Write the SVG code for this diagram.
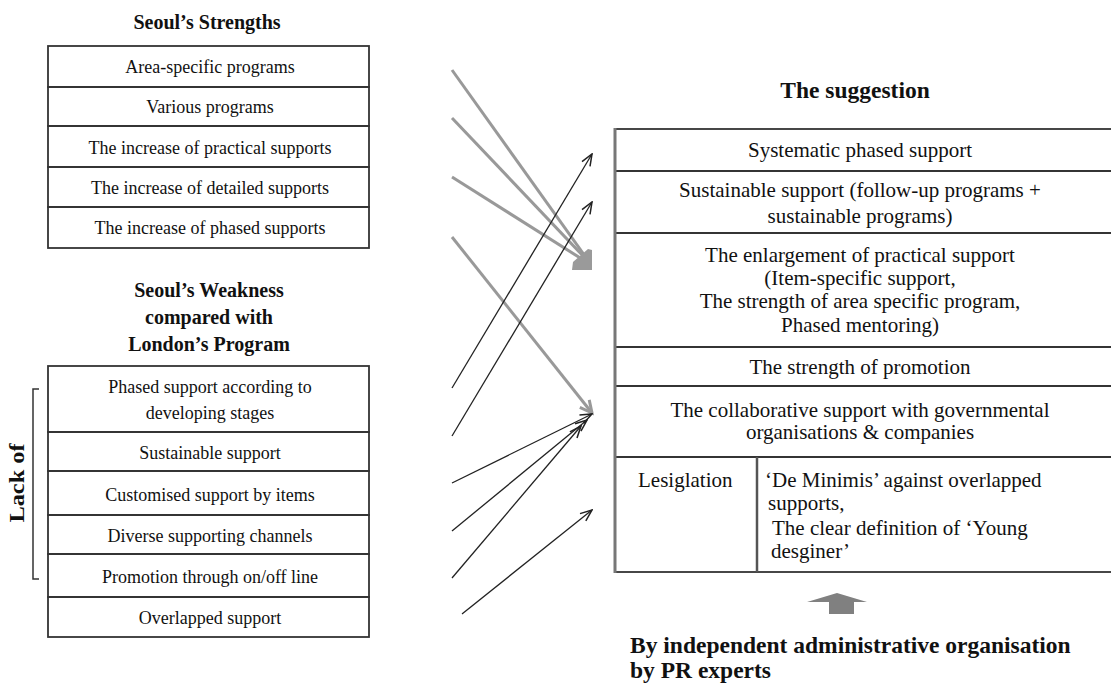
<svg xmlns="http://www.w3.org/2000/svg" width="1111" height="684" viewBox="0 0 1111 684">
<style>
  .bg{fill:#fff}
  .cell{fill:none;stroke:#333;stroke-width:1.8}
  .t{font-family:"Liberation Serif","Times New Roman",serif;fill:#111}
  .l{font-size:18px;text-anchor:middle}
  .r{font-size:21px;text-anchor:middle}
  .rs{font-size:21px}
  .h{font-weight:bold;font-size:20px;text-anchor:middle}
  .hb{font-weight:bold;font-size:23.5px}
  .ga{fill:none;stroke:#999;stroke-width:3}
  .ba{fill:none;stroke:#222;stroke-width:1.3}
</style>
<defs>
  <marker id="mg" markerUnits="userSpaceOnUse" markerWidth="16" markerHeight="16" refX="13" refY="7" orient="auto" viewBox="0 0 16 14">
    <path d="M1,1 L13,7 L1,13" fill="none" stroke="#999" stroke-width="3"/>
  </marker>
  <marker id="mb" markerUnits="userSpaceOnUse" markerWidth="14" markerHeight="12" refX="11" refY="5" orient="auto" viewBox="0 0 12 10">
    <path d="M1,1 L11,5 L1,9" fill="none" stroke="#222" stroke-width="1.3"/>
  </marker>
</defs>
<rect class="bg" x="0" y="0" width="1111" height="684"/>

<g id="title-strengths"><text class="t h" x="207" y="29">Seoul’s Strengths</text></g>

<g id="strengths">
  <g id="s1"><rect class="cell" x="48" y="46" width="321" height="41"/><text class="t l" x="210" y="73">Area-specific programs</text></g>
  <g id="s2"><rect class="cell" x="48" y="87" width="321" height="39"/><text class="t l" x="210" y="113">Various programs</text></g>
  <g id="s3"><rect class="cell" x="48" y="126" width="321" height="41"/><text class="t l" x="210" y="154">The increase of practical supports</text></g>
  <g id="s4"><rect class="cell" x="48" y="167" width="321" height="40"/><text class="t l" x="210" y="194">The increase of detailed supports</text></g>
  <g id="s5"><rect class="cell" x="48" y="207" width="321" height="41"/><text class="t l" x="210" y="234">The increase of phased supports</text></g>
</g>

<g id="title-weakness">
  <text class="t h" x="209" y="297">Seoul’s Weakness</text>
  <text class="t h" x="209" y="324">compared with</text>
  <text class="t h" x="209" y="351">London’s Program</text>
</g>

<g id="weakness">
  <g id="w1"><rect class="cell" x="48" y="366" width="321" height="66"/><text class="t l" x="210" y="393">Phased support according to</text><text class="t l" x="210" y="419">developing stages</text></g>
  <g id="w2"><rect class="cell" x="48" y="432" width="321" height="39"/><text class="t l" x="210" y="459">Sustainable support</text></g>
  <g id="w3"><rect class="cell" x="48" y="471" width="321" height="44"/><text class="t l" x="210" y="501">Customised support by items</text></g>
  <g id="w4"><rect class="cell" x="48" y="515" width="321" height="39"/><text class="t l" x="210" y="542">Diverse supporting channels</text></g>
  <g id="w5"><rect class="cell" x="48" y="554" width="321" height="43"/><text class="t l" x="210" y="583">Promotion through on/off line</text></g>
  <g id="w6"><rect class="cell" x="48" y="597" width="321" height="40"/><text class="t l" x="210" y="624">Overlapped support</text></g>
</g>

<g id="lack-of">
  <path d="M39,389 H33 V579 H39" fill="none" stroke="#333" stroke-width="1.5"/>
  <text class="t" font-weight="bold" font-size="20" text-anchor="middle" transform="translate(24,483) rotate(-90)" textLength="79" lengthAdjust="spacingAndGlyphs">Lack of</text>
</g>

<g id="title-suggestion"><text class="t hb" x="855" y="98" text-anchor="middle">The suggestion</text></g>

<g id="suggestion">
  <g id="g1"><rect class="cell" x="615" y="129" width="510" height="42"/><text class="t r" x="860" y="157">Systematic phased support</text></g>
  <g id="g2"><rect class="cell" x="615" y="171" width="510" height="62"/><text class="t r" x="860" y="197">Sustainable support (follow-up programs +</text><text class="t r" x="860" y="223">sustainable programs)</text></g>
  <g id="g3"><rect class="cell" x="615" y="233" width="510" height="114"/>
    <text class="t r" x="860" y="262">The enlargement of practical support</text>
    <text class="t r" x="860" y="285">(Item-specific support,</text>
    <text class="t r" x="860" y="308">The strength of area specific program,</text>
    <text class="t r" x="860" y="332">Phased mentoring)</text></g>
  <g id="g4"><rect class="cell" x="615" y="347" width="510" height="39"/><text class="t r" x="860" y="374">The strength of promotion</text></g>
  <g id="g5"><rect class="cell" x="615" y="386" width="510" height="71"/><text class="t r" x="860" y="417">The collaborative support with governmental</text><text class="t r" x="860" y="439">organisations &amp; companies</text></g>
  <g id="g6"><rect class="cell" x="615" y="457" width="510" height="115"/>
    <line x1="757" y1="457" x2="757" y2="572" stroke="#555" stroke-width="2.5"/>
    <text class="t rs" x="638" y="487">Lesiglation</text>
    <text class="t rs" x="765" y="487">‘De Minimis’ against overlapped</text>
    <text class="t rs" x="768" y="510">supports,</text>
    <text class="t rs" x="772" y="535">The clear definition of ‘Young</text>
    <text class="t rs" x="771" y="558">desginer’</text></g>
  <line x1="615" y1="128" x2="615" y2="573" stroke="#777" stroke-width="3"/>
</g>

<g id="admin-arrow">
  <path d="M807,602 L837,593 L867,602 L854,602 L854,614 L829,614 L829,602 Z" fill="#808080"/>
</g>

<g id="title-admin">
  <text class="t hb" x="630" y="653">By independent administrative organisation</text>
  <text class="t hb" x="630" y="678">by PR experts</text>
</g>

<g id="connectors">
  <line class="ga" x1="452" y1="70" x2="585" y2="256"/>
  <line class="ga" x1="452" y1="118" x2="585" y2="258"/>
  <line class="ga" x1="452" y1="177" x2="585" y2="261"/>
  <path d="M573,262 L588,249 L592,250 L592,270 L572,270 Z" fill="#9a9a9a"/>
  <line class="ga" x1="452" y1="237" x2="592" y2="413" marker-end="url(#mg)"/>
  <line class="ba" x1="452" y1="388" x2="592" y2="154" marker-end="url(#mb)"/>
  <line class="ba" x1="452" y1="436" x2="592" y2="202" marker-end="url(#mb)"/>
  <line class="ba" x1="452" y1="483" x2="592" y2="414" marker-end="url(#mb)"/>
  <line class="ba" x1="452" y1="531" x2="587" y2="420" marker-end="url(#mb)"/>
  <line class="ba" x1="452" y1="578" x2="581" y2="426" marker-end="url(#mb)"/>
  <line class="ba" x1="462" y1="614" x2="592" y2="510" marker-end="url(#mb)"/>
</g>
</svg>
